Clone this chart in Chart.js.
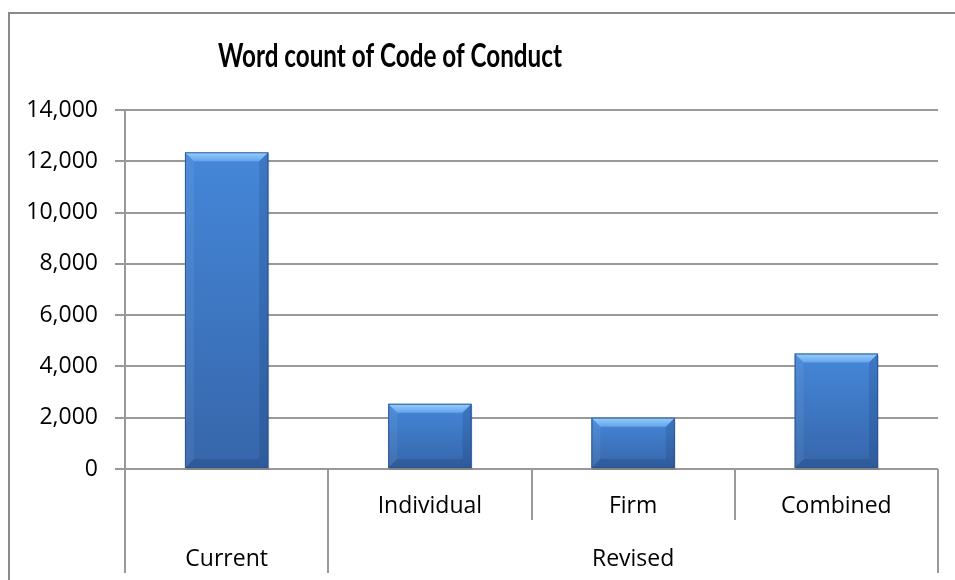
<!DOCTYPE html>
<html>
<head>
<meta charset="utf-8">
<script src="https://cdn.jsdelivr.net/npm/chart.js@4.4.1/dist/chart.umd.min.js"></script>
<style>
html,body{margin:0;padding:0;background:#fff;}
#wrap{width:955px;height:580px;position:relative;}
</style>
</head>
<body>
<div id="wrap"><canvas id="wordChart"></canvas></div>
<script>
// ==============================
// Word count of Code of Conduct
// ==============================

const chartTitle = "Word count of Code of Conduct"

const categories = ["", "Individual", "Firm", "Combined"]

const groupLabels = ["Current", "Revised"]
const groupSpans = [1, 3]

const wordCounts = [12350, 2540, 2000, 4500]

const yMin = 0
const yMax = 14000
const yStep = 2000

const lineGrey = "#999999"
const labelFont = {family: "'Open Sans', 'DejaVu Sans', sans-serif", size: 23}


// category edges from the x scale

function edgeAt(scale, i){

if(i <= 0) return scale.left
if(i >= categories.length) return scale.right

return (scale.getPixelForValue(i - 1) + scale.getPixelForValue(i)) / 2

}


// frame + title

const framePlugin = {

id: "frame",

beforeDraw(chart){

const ctx = chart.ctx

ctx.save()
ctx.strokeStyle = "#8a8a8a"
ctx.lineWidth = 2
ctx.beginPath()
ctx.moveTo(9, chart.height + 5)
ctx.lineTo(9, 13)
ctx.lineTo(chart.width + 5, 13)
ctx.stroke()
ctx.restore()

},

afterDraw(chart){

const ctx = chart.ctx

ctx.save()
ctx.fillStyle = "#000"
ctx.font = "bold 33px Lato, 'Open Sans', sans-serif"
ctx.textAlign = "center"
ctx.textBaseline = "alphabetic"

// squeeze to a Calibri-like width
const w = ctx.measureText(chartTitle).width
const sx = Math.min(1, 344 / w)

ctx.translate(390, 67)
ctx.scale(sx, 1)
ctx.fillText(chartTitle, 0, 0)
ctx.restore()

}

}


// bar bevel look

const bevelPlugin = {

id: "bevel",

afterDatasetsDraw(chart){

const ctx = chart.ctx
const meta = chart.getDatasetMeta(0)

meta.data.forEach(bar => {

const p = bar.getProps(["x", "y", "base", "width"], true)
const l = p.x - p.width / 2
const r = p.x + p.width / 2
const t = p.y
const b = p.base
const e = Math.min(9, (b - t) / 3)

ctx.save()

// soft shadow
ctx.fillStyle = "rgba(0,0,0,0.12)"
ctx.fillRect(l + 1, t + 2, r - l, b - t)

const body = ctx.createLinearGradient(0, t, 0, b)
body.addColorStop(0, "#4587d9")
body.addColorStop(1, "#3666aa")
ctx.fillStyle = body
ctx.fillRect(l, t, r - l, b - t)

// top edge
const top = ctx.createLinearGradient(0, t, 0, t + e)
top.addColorStop(0, "#9ad0fa")
top.addColorStop(1, "#62a4ec")
ctx.fillStyle = top
ctx.beginPath()
ctx.moveTo(l, t)
ctx.lineTo(r, t)
ctx.lineTo(r - e, t + e)
ctx.lineTo(l + e, t + e)
ctx.closePath()
ctx.fill()

// left edge
ctx.fillStyle = "rgba(255,255,255,0.06)"
ctx.beginPath()
ctx.moveTo(l, t)
ctx.lineTo(l + e, t + e)
ctx.lineTo(l + e, b - e)
ctx.lineTo(l, b)
ctx.closePath()
ctx.fill()

// right edge
ctx.fillStyle = "rgba(10,30,70,0.14)"
ctx.beginPath()
ctx.moveTo(r, t)
ctx.lineTo(r - e, t + e)
ctx.lineTo(r - e, b - e)
ctx.lineTo(r, b)
ctx.closePath()
ctx.fill()

// bottom edge
ctx.fillStyle = "rgba(10,30,70,0.16)"
ctx.beginPath()
ctx.moveTo(l, b)
ctx.lineTo(l + e, b - e)
ctx.lineTo(r - e, b - e)
ctx.lineTo(r, b)
ctx.closePath()
ctx.fill()

ctx.strokeStyle = "rgba(40,80,140,0.8)"
ctx.lineWidth = 1
ctx.strokeRect(l + 0.5, t + 0.5, r - l - 1, b - t - 1)

ctx.restore()

})

}

}


// two-level category axis

const groupAxisPlugin = {

id: "groupAxis",

afterDraw(chart){

const ctx = chart.ctx
const xs = chart.scales.x
const bottom = chart.chartArea.bottom

ctx.save()
ctx.strokeStyle = lineGrey
ctx.lineWidth = 2

// first row dividers
for(let i = 0; i <= categories.length; i++){

const px = Math.round(edgeAt(xs, i))
ctx.beginPath()
ctx.moveTo(px, bottom)
ctx.lineTo(px, bottom + 51)
ctx.stroke()

}

// group dividers + labels
let start = 0

ctx.fillStyle = "#000"
ctx.font = labelFont.size + "px " + labelFont.family
ctx.textAlign = "center"
ctx.textBaseline = "middle"

const edges = [0]
groupSpans.forEach(s => { start += s; edges.push(start) })

edges.forEach(i => {

const px = Math.round(edgeAt(xs, i))
ctx.beginPath()
ctx.moveTo(px, bottom)
ctx.lineTo(px, bottom + 104)
ctx.stroke()

})

groupLabels.forEach((label, g) => {

const cx = (edgeAt(xs, edges[g]) + edgeAt(xs, edges[g + 1])) / 2
ctx.fillText(label, cx, bottom + 90)

})

ctx.restore()

}

}


// chart

const wordChart = new Chart(document.getElementById("wordChart"), {

type: "bar",

data: {

labels: categories,

datasets: [{

data: wordCounts,

backgroundColor: "#3d76c2",

barPercentage: 0.41,

categoryPercentage: 1

}]

},

options: {

responsive: true,
maintainAspectRatio: false,
animation: false,

layout: {
padding: {top: 110, right: 17, bottom: 0, left: 0}
},

plugins: {
legend: {display: false},
title: {display: false},
tooltip: {enabled: false}
},

scales: {

x: {

ticks: {
color: "#000",
font: labelFont,
padding: 24,
maxRotation: 0,
autoSkip: false
},

grid: {display: false, drawTicks: false},

border: {display: false},

afterFit: s => { s.height = 111 }

},

y: {

min: yMin,
max: yMax,

ticks: {
stepSize: yStep,
color: "#000",
font: labelFont,
padding: 17,
callback: v => v.toLocaleString("en-US")
},

grid: {color: lineGrey, lineWidth: 2, tickLength: 10},

border: {color: lineGrey, width: 2},

afterFit: s => { s.width = 125 }

}

}

},

plugins: [framePlugin, bevelPlugin, groupAxisPlugin]

})
</script>
</body>
</html>
